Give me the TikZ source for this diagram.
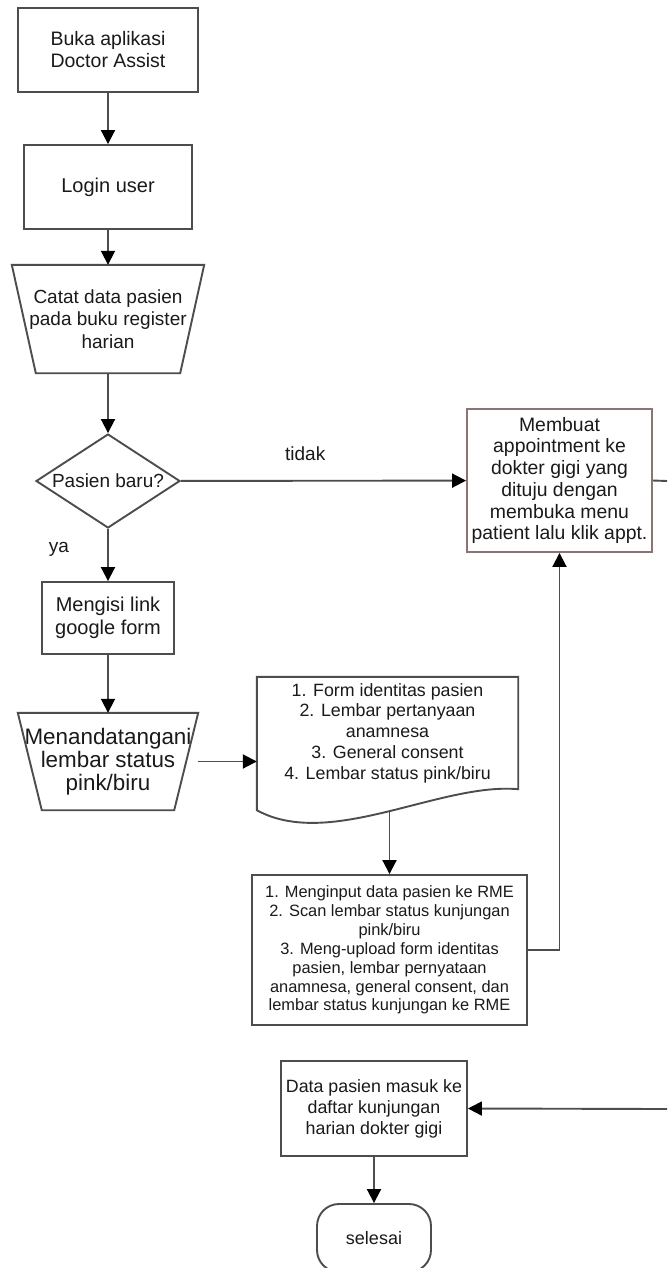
\documentclass[tikz,border=0pt]{standalone}
\usepackage{fontspec}
\setmainfont{Liberation Sans}
\usepackage{xcolor}
\usepackage{tikz}
\usetikzlibrary{arrows.meta,positioning,calc,shapes.geometric}
\definecolor{edge}{HTML}{4D4D4D}
\definecolor{ink}{HTML}{1A1A1A}
\definecolor{rosegray}{HTML}{8C7474}
\newcommand{\txtsize}[2]{\fontsize{#1}{#2}\selectfont}
\tikzset{
  >={Triangle[length=14pt,width=14pt,color=black]},
  box/.style={draw=edge, line width=1.9pt, fill=white, align=center, text=ink, inner sep=2pt},
  ghost/.style={align=center, text=ink, inner sep=0pt},
  outline/.style={draw=edge, line width=1.9pt},
  flow/.style={->, line width=1.9pt, color=edge},
  wire/.style={line width=1.9pt, color=edge},
  tag/.style={text=ink, inner sep=0pt, font=\txtsize{19}{22}}
}
\begin{document}
\begin{tikzpicture}[x=1pt,y=-1pt]
  \path[use as bounding box,fill=white] (0,0) rectangle (667,1268);

  \node[box,minimum width=180,minimum height=84,font=\txtsize{19.5}{22}] (open) at (108,50) {Buka aplikasi\\Doctor Assist};
  \node[box,minimum width=168,minimum height=84,font=\txtsize{20}{22}] (login) at (108,187) {Login user};
  \node[ghost,minimum width=192,minimum height=108,font=\txtsize{19}{22.5}] (catat) at (108,319) {Catat data pasien\\pada buku register\\harian};
  \node[draw=edge,line width=1.9pt,diamond,aspect=1.53,inner sep=0pt,minimum width=144,minimum height=94,
    text=ink,font=\txtsize{19}{22}] (baru) at (108,481) {Pasien baru?};
  \node[box,minimum width=132,minimum height=72,font=\txtsize{20}{23}] (isi) at (108,618) {Mengisi link\\google form};
  \node[ghost,minimum width=180,minimum height=97,font=\txtsize{22.4}{23}] (ttd) at (108,761.5) {Menandatangani\\lembar status\\pink/biru};

  \node[box,draw=rosegray,minimum width=185,minimum height=143,font=\txtsize{19.4}{21.7}] (appt) at (559.5,480.5)
    {Membuat\\appointment ke\\dokter gigi yang\\dituju dengan\\membuka menu\\patient lalu klik appt.};
  \node[ghost,minimum width=261,minimum height=112,font=\txtsize{17.8}{20.8}] (doc) at (387.5,733)
    {1. Form identitas pasien\\2. Lembar pertanyaan\\anamnesa\\3. General consent\\4. Lembar status pink/biru};
  \node[box,minimum width=275,minimum height=150,font=\txtsize{16.4}{18.9}] (rme) at (389.5,950)
    {1. Menginput data pasien ke RME\\2. Scan lembar status kunjungan\\pink/biru\\3. Meng-upload form identitas\\pasien, lembar pernyataan\\anamnesa, general consent, dan\\lembar status kunjungan ke RME};
  \node[box,minimum width=186,minimum height=95,font=\txtsize{17.8}{21}] (data) at (374,1108.5)
    {Data pasien masuk ke\\daftar kunjungan\\harian dokter gigi};
  \node[box,rounded corners=22pt,minimum width=114,minimum height=68,font=\txtsize{18}{21}] (selesai) at (374,1238) {selesai};

  \coordinate (outA) at (667,481);
  \coordinate (outB) at (667,1109);

  \foreach \n in {catat,ttd}{
    \draw[outline] (\n.north west) -- (\n.north east) -- ($(\n.south east)+(-24,0)$) -- ($(\n.south west)+(24,0)$) -- cycle;
  }
  \draw[outline] (doc.north west) -- (doc.north east) -- (doc.south east)
    .. controls +(-78,-7) and +(73,40) .. coordinate[pos=0.5] (docb) ($(doc.south west)+(0,21)$) -- cycle;

  \draw[flow] (open) -- (login);
  \draw[flow] (login) -- (catat);
  \draw[flow] (catat) -- (baru);
  \draw[flow] (baru) -- node[tag,pos=0.4,left=38pt] {ya} (isi);
  \draw[flow] (baru) -- node[tag,pos=0.436,above=19pt] {tidak} (appt);
  \draw[flow] (isi) -- (ttd);
  \draw[flow] (ttd.east) -- (ttd.east -| doc.west);
  \draw[flow] (docb -| rme.north) -- (rme.north);
  \draw[flow] (rme.east) -| (appt.south);
  \draw[wire] (appt.east) -- (outA);
  \draw[flow] (outB) -- (data.east);
  \draw[flow] (data) -- (selesai);
\end{tikzpicture}
\end{document}
